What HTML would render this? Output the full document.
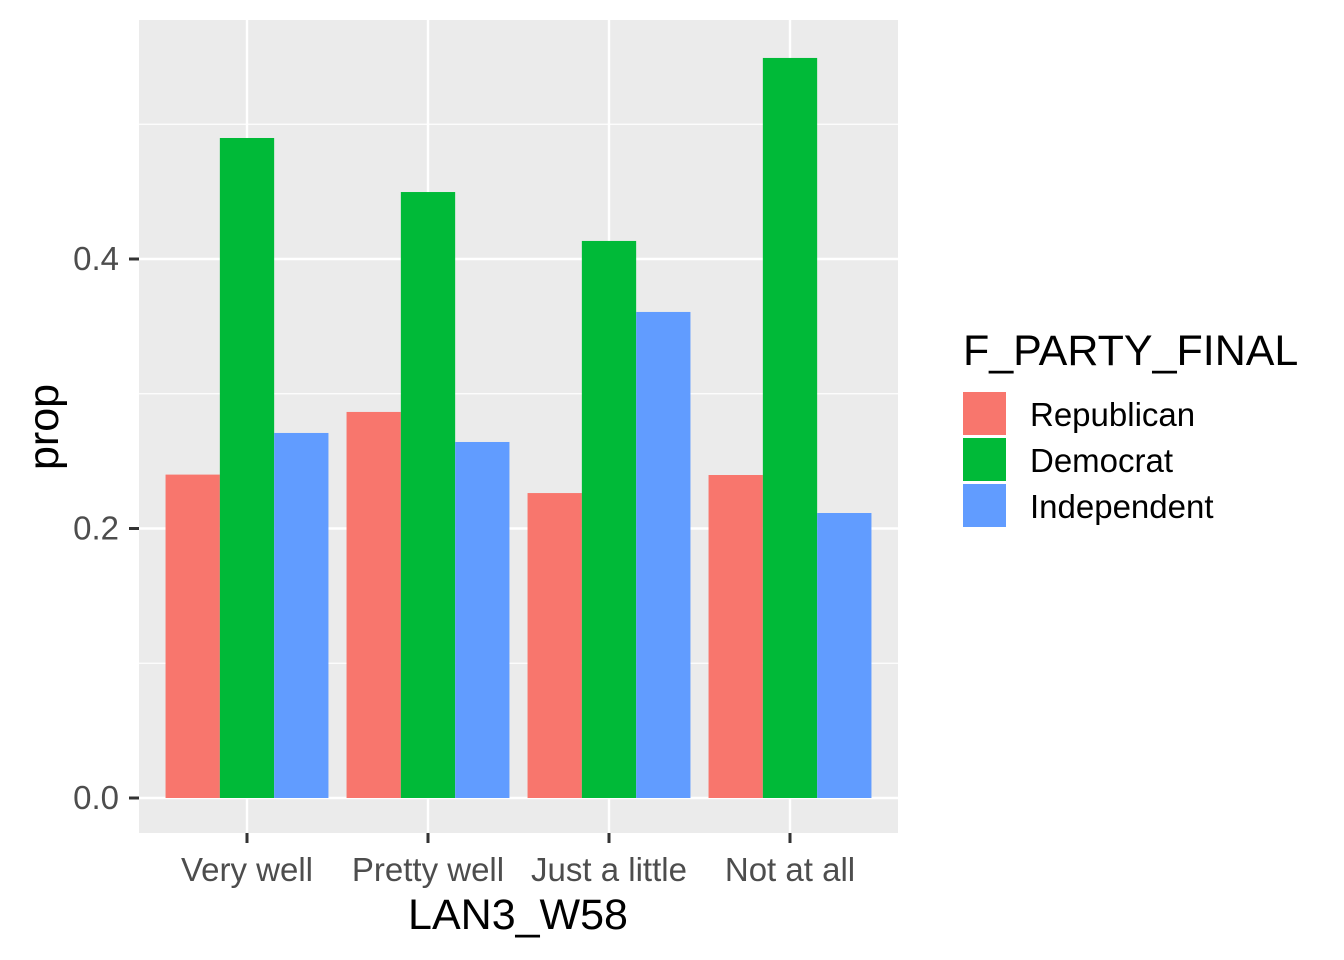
<!DOCTYPE html>
<html><head><meta charset="utf-8"><style>
body{margin:0;background:#fff}
svg{display:block;font-family:"Liberation Sans",Arial,sans-serif}
</style></head><body>
<svg id="c" width="1344" height="960"></svg>
<script>
const categories=["Very well","Pretty well","Just a little","Not at all"];
const series=["Republican","Democrat","Independent"];
const republican=[0.240,0.2865,0.2263,0.2397];
const democrat=[0.4898,0.4497,0.4134,0.5492];
const independent=[0.2709,0.2642,0.3607,0.2115];
const yTicks=[0,0.2,0.4];
const yTickLabels=["0.0","0.2","0.4"];
const yMinor=[0.1,0.3,0.5];
const colors=["#F8766D","#00BA38","#619CFF"];
const vals=[republican,democrat,independent];
const NS="http://www.w3.org/2000/svg";
const svg=document.getElementById('c');
const P={l:139,r:898,t:20,b:833};
const y=v=>798-v*1347.5;
const step=181;
const x=i=>247+step*i;
function mk(t,a,txt){const e=document.createElementNS(NS,t);for(const k in a)e.setAttribute(k,a[k]);if(txt!==undefined)e.textContent=txt;svg.appendChild(e);return e;}
let e=mk('rect',{x:P.l,y:P.t,width:P.r-P.l,height:P.b-P.t,fill:'#EBEBEB'});

yMinor.forEach(v=>{const g=mk('line',{x1:P.l,x2:P.r,y1:y(v),y2:y(v),stroke:'#fff','stroke-width':1.2});});
yTicks.forEach((v,i)=>{const g=mk('line',{x1:P.l,x2:P.r,y1:y(v),y2:y(v),stroke:'#fff','stroke-width':2.4});
const t=mk('line',{x1:129,x2:P.l,y1:y(v),y2:y(v),stroke:'#333','stroke-width':3});
const l=mk('text',{x:119,y:y(v)+11,'text-anchor':'end','font-size':33,fill:'#4D4D4D'},yTickLabels[i]);});
categories.forEach((c,i)=>{const g=mk('line',{x1:x(i),x2:x(i),y1:P.t,y2:P.b,stroke:'#fff','stroke-width':2.4});
const t=mk('line',{x1:x(i),x2:x(i),y1:P.b,y2:P.b+10,stroke:'#333','stroke-width':3});
const l=mk('text',{x:x(i),y:881,'text-anchor':'middle','font-size':33,fill:'#4D4D4D'},c);
const bw=step*0.9/3;
vals.forEach((s,j)=>{const b=mk('rect',{x:x(i)-step*0.45+bw*j,y:y(s[i]),width:bw,height:y(0)-y(s[i]),fill:colors[j]});});});
e=mk('text',{x:518,y:929,'text-anchor':'middle','font-size':43,fill:'#000'},'LAN3_W58');
e=mk('text',{x:0,y:0,'text-anchor':'middle','font-size':43,fill:'#000',transform:'translate(58,427) rotate(-90)'},'prop');
e=mk('text',{x:963,y:365,'font-size':43,fill:'#000'},'F_PARTY_FINAL');
series.forEach((s,j)=>{const r=mk('rect',{x:963,y:392+46*j,width:43,height:43,fill:colors[j]});
const t=mk('text',{x:1030,y:426+46*j,'font-size':33,fill:'#000'},s);});
</script>
</body></html>
